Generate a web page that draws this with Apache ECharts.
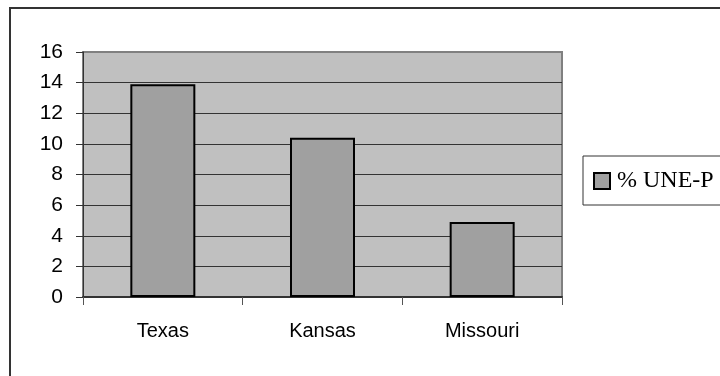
<!DOCTYPE html>
<html>
<head>
<meta charset="utf-8">
<script src="https://cdn.jsdelivr.net/npm/echarts@6/dist/echarts.min.js"></script>
<style>
  html, body { margin: 0; padding: 0; background: #ffffff; }
  #chart { width: 720px; height: 376px; }
</style>
</head>
<body>
<div id="chart"></div>
<script>
// Share of UNE-P lines by state
const states = ['Texas', 'Kansas', 'Missouri'];
const uneP = [13.9, 10.4, 4.9];
const seriesName = '% UNE-P';
const yTicks = { min: 0, max: 16, step: 2 };

const chart = echarts.init(document.getElementById('chart'), null, { renderer: 'canvas' });

const sans = '"Liberation Sans", Arial, sans-serif';
const serif = '"Liberation Serif", "Times New Roman", serif';

chart.setOption({
  animation: false,
  backgroundColor: '#ffffff',
  graphic: [
    {
      type: 'rect',
      z: 0,
      shape: { x: 10, y: 8, width: 740, height: 400 },
      style: { fill: 'none', stroke: '#333333', lineWidth: 2 }
    }
  ],
  grid: {
    left: 83, top: 52, right: 158, bottom: 79,
    show: true,
    backgroundColor: '#c0c0c0',
    borderColor: '#808080',
    borderWidth: 2
  },
  legend: {
    data: [seriesName],
    left: 583, top: 156,
    orient: 'vertical',
    padding: [13, 40, 12, 10],
    itemWidth: 16, itemHeight: 16,
    icon: 'rect',
    borderColor: '#333333',
    borderWidth: 1,
    backgroundColor: '#ffffff',
    itemStyle: { color: '#a0a0a0', borderColor: '#000000', borderWidth: 2 },
    textStyle: { fontFamily: serif, fontSize: 24, color: '#000000', padding: [0, 0, 0, 2] }
  },
  xAxis: {
    type: 'category',
    data: states,
    boundaryGap: true,
    axisLine: { show: true, lineStyle: { color: '#333333', width: 2 } },
    axisTick: { show: true, length: 8, interval: 0, alignWithLabel: false, lineStyle: { color: '#555555', width: 1 } },
    axisLabel: { fontFamily: sans, fontSize: 20, color: '#000000', margin: 24 },
    splitLine: { show: false }
  },
  yAxis: {
    type: 'value',
    min: yTicks.min, max: yTicks.max, interval: yTicks.step,
    axisLine: { show: true, lineStyle: { color: '#333333', width: 1 } },
    axisTick: { show: true, length: 7, lineStyle: { color: '#333333', width: 1 } },
    axisLabel: { fontFamily: sans, fontSize: 21, color: '#000000', margin: 20 },
    splitLine: {
      show: true,
      lineStyle: {
        color: ['#333333', '#333333', '#333333', '#333333', '#333333', '#333333', '#333333', '#333333', '#808080'],
        width: 1
      }
    }
  },
  series: [
    {
      name: seriesName,
      type: 'bar',
      data: uneP,
      barWidth: 65,
      itemStyle: { color: '#a0a0a0', borderColor: '#000000', borderWidth: 2 }
    }
  ]
});
</script>
</body>
</html>
